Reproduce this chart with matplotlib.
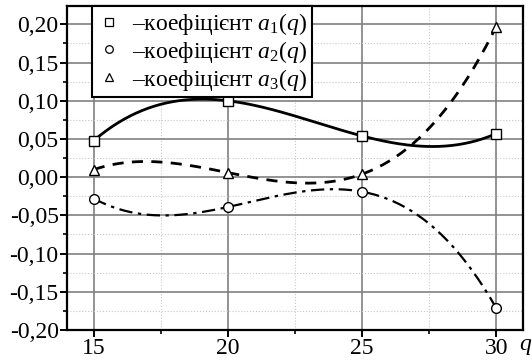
import numpy as np
import matplotlib
matplotlib.use("Agg")
import matplotlib.pyplot as plt
from matplotlib.ticker import MultipleLocator, FuncFormatter
from matplotlib.lines import Line2D

plt.rcParams["font.family"] = ["Liberation Serif", "DejaVu Serif"]
plt.rcParams["mathtext.fontset"] = "custom"
plt.rcParams["mathtext.rm"] = "Liberation Serif"
plt.rcParams["mathtext.it"] = "Liberation Serif:italic"

# === Дані ===
q = [15, 20, 25, 30]
a1 = [0.048, 0.100, 0.054, 0.057]
a2 = [-0.028, -0.039, -0.019, -0.171]
a3 = [0.010, 0.006, 0.004, 0.197]

labels = ["\u2013коефіцієнт $a_1(q)\\;\\;$",
          "\u2013коефіцієнт $a_2(q)\\;\\;$",
          "\u2013коефіцієнт $a_3(q)\\;\\;$"]

fig = plt.figure(figsize=(5.32, 3.64), dpi=100)
ax = fig.add_axes([0.126, 0.0934, 0.857, 0.89])

qq = np.linspace(15, 30, 200)

def smooth(y):
    # кубічна інтерполяція через 4 точки
    c = np.polyfit(q, y, 3)
    return np.polyval(c, qq)

ax.plot(qq, smooth(a1), color="black", lw=2.0, ls="-", zorder=3)
ax.plot(qq, smooth(a3), color="black", lw=2.0, ls=(0, (4, 3)), zorder=3)
ax.plot(qq, smooth(a2), color="black", lw=1.6, ls=(0, (6, 2.5, 1.5, 2.5)), zorder=3)

mk = dict(color="black", mfc="white", mec="black", mew=1.0, ms=7, ls="none", zorder=4)
ax.plot(q, a1, marker="s", **mk)
ax.plot(q, a2, marker="o", **mk)
ax.plot(q, a3, marker="^", **mk)

ax.set_xlim(14, 31)
ax.set_ylim(-0.20, 0.224)
ax.xaxis.set_major_locator(MultipleLocator(5))
ax.xaxis.set_minor_locator(MultipleLocator(2.5))
ax.yaxis.set_major_locator(MultipleLocator(0.05))
ax.yaxis.set_minor_locator(MultipleLocator(0.025))
ax.yaxis.set_major_formatter(FuncFormatter(lambda v, p: f"{v:.2f}".replace(".", ",").replace("\u2212", "-")))

ax.grid(which="major", color="#808080", lw=1.2, ls="-")
ax.grid(which="minor", color="#c8c8c8", lw=0.8, ls=":")
ax.set_axisbelow(True)

for s in ax.spines.values():
    s.set_linewidth(1.6)
    s.set_color("black")
ax.tick_params(which="major", direction="out", length=5, width=1.4, labelsize=17, pad=1)
ax.tick_params(which="minor", direction="out", length=3, width=1.2)

ax.text(0.992, -0.017, "$q$", transform=ax.transAxes, fontsize=17, va="top", ha="left")

handles = [Line2D([], [], marker=m, color="black", mfc="white", mec="black",
                  mew=0.9, ms=5.5, ls="none") for m in ["s", "o", "^"]]
leg = ax.legend(handles, labels, loc="upper left", bbox_to_anchor=(0.055, 1.0),
                borderaxespad=0, fancybox=False, framealpha=1, edgecolor="black",
                fontsize=17, handlelength=1.0, handletextpad=0.5, labelspacing=0.08,
                borderpad=0.2)
leg.get_frame().set_linewidth(1.5)

fig.savefig("out.png", dpi=100)
